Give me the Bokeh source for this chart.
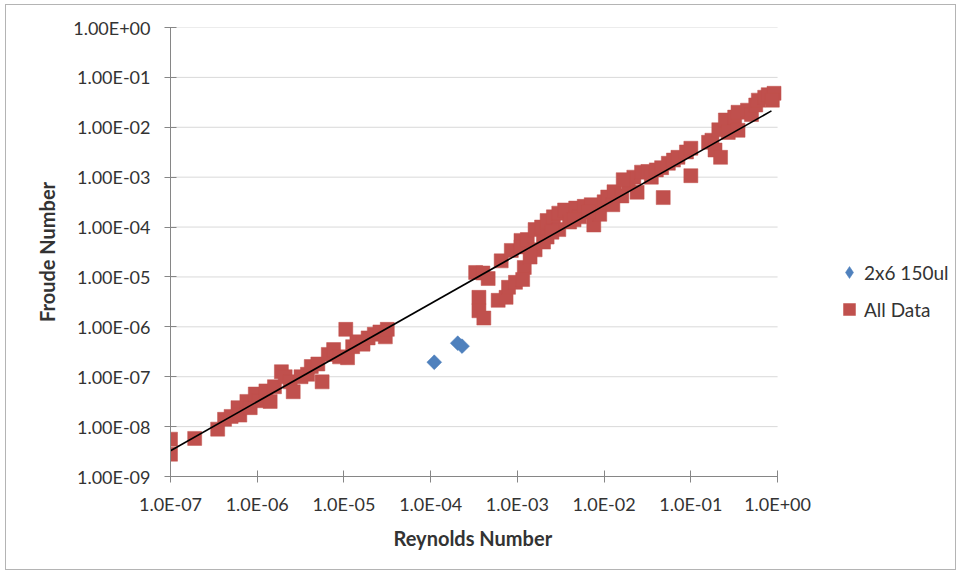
from bokeh.plotting import figure
from bokeh.models import (Range1d, FixedTicker, CustomJSTickFormatter, Legend, LegendItem, Title)
from bokeh.embed import file_html
from bokeh.resources import INLINE

# ---- data ----
all_re = [1.0e-7, 1.0e-7, 1.9e-7, 3.5e-7, 4.2e-7, 5.0e-7, 6.0e-7, 6.3e-7, 7.6e-7, 8.3e-7,
          9.5e-7, 1.05e-6, 1.26e-6, 1.41e-6, 1.58e-6, 1.9e-6, 2.1e-6, 2.4e-6, 2.6e-6, 3.2e-6,
          3.8e-6, 4.2e-6, 5.0e-6, 5.6e-6, 6.6e-6, 7.6e-6, 8.9e-6, 1.05e-5, 1.1e-5, 1.26e-5,
          1.41e-5, 1.66e-5, 1.9e-5, 2.24e-5, 2.6e-5, 3.0e-5, 3.16e-5,
          3.3e-4, 4.0e-4, 4.6e-4, 3.6e-4, 3.6e-4, 4.1e-4, 6.0e-4, 7.4e-4, 7.9e-4, 9.5e-4,
          6.5e-4, 8.5e-4, 1.1e-3, 1.2e-3, 1.15e-3, 1.1e-3, 1.3e-3, 1.6e-3, 1.6e-3, 1.9e-3,
          2.2e-3, 2.2e-3, 2.6e-3, 3.0e-3, 3.0e-3, 3.5e-3, 4.0e-3, 4.7e-3, 5.2e-3, 5.9e-3,
          7.1e-3, 7.6e-3, 8.9e-3, 1.0e-2, 1.1e-2, 1.3e-2, 1.6e-2, 1.9e-2, 2.2e-2, 2.4e-2,
          2.7e-2, 3.2e-2, 3.5e-2, 4.0e-2, 4.6e-2, 4.8e-2, 5.5e-2, 6.3e-2, 7.1e-2, 8.9e-2,
          1.0e-1, 1.0e-1, 1.6e-1, 1.75e-1, 1.9e-1, 2.2e-1, 2.1e-1, 2.5e-1, 2.7e-1, 3.2e-1,
          3.5e-1, 3.5e-1, 4.5e-1, 5.0e-1, 5.6e-1, 6.0e-1, 7.1e-1, 7.8e-1, 9.1e-1, 8.7e-1,
          1.4e-3, 2.0e-3, 2.5e-3, 4.5e-3, 6.6e-3, 1.26e-2, 1.66e-2]
all_fr = [5.6e-9, 2.8e-9, 5.8e-9, 8.9e-9, 1.4e-8, 1.6e-8, 2.4e-8, 1.7e-8, 3.2e-8, 2.4e-8,
          4.5e-8, 3.3e-8, 5.2e-8, 3.2e-8, 6.3e-8, 1.26e-7, 1.0e-7, 7.9e-8, 5.0e-8, 1.0e-7,
          1.12e-7, 1.6e-7, 1.8e-7, 7.9e-8, 2.8e-7, 3.5e-7, 2.5e-7, 8.9e-7, 2.4e-7, 4.0e-7,
          5.0e-7, 4.5e-7, 6.0e-7, 7.1e-7, 7.9e-7, 6.3e-7, 8.9e-7,
          1.23e-5, 1.2e-5, 9.3e-6, 3.9e-6, 2.1e-6, 1.5e-6, 3.4e-6, 3.9e-6, 6.2e-6, 7.8e-6,
          2.1e-5, 3.4e-5, 5.4e-5, 1.55e-5, 8.9e-6, 4.0e-5, 5.6e-5, 8.9e-5, 3.5e-5, 1.0e-4,
          1.35e-4, 6.3e-5, 1.6e-4, 1.9e-4, 8.9e-5, 2.2e-4, 1.26e-4, 2.4e-4, 1.6e-4, 2.6e-4,
          2.8e-4, 1.1e-4, 1.8e-4, 3.2e-4, 4.0e-4, 5.1e-4, 4.2e-4, 7.4e-4, 1.0e-3, 5.0e-4,
          1.26e-3, 1.3e-3, 1.0e-3, 1.4e-3, 1.55e-3, 3.9e-4, 1.9e-3, 2.2e-3, 2.5e-3, 3.2e-3,
          3.8e-3, 1.07e-3, 5.0e-3, 5.5e-3, 3.5e-3, 2.5e-3, 8.9e-3, 1.4e-2, 7.9e-3, 1.6e-2,
          2.0e-2, 8.7e-3, 2.2e-2, 1.8e-2, 2.8e-2, 3.5e-2, 4.0e-2, 4.5e-2, 4.8e-2, 3.5e-2,
          2.5e-5, 5.0e-5, 7.9e-5, 1.4e-4, 2.0e-4, 2.8e-4, 8.9e-4]

blue_re = [1.1e-4, 2.05e-4, 2.3e-4]
blue_fr = [1.95e-7, 4.7e-7, 4.1e-7]

trend_a = 0.025
trend_b = 0.983
trend_re = [1.0e-7, 8.5e-1]
trend_fr = [trend_a * r ** trend_b for r in trend_re]

x_ticks = [1e-7, 1e-6, 1e-5, 1e-4, 1e-3, 1e-2, 1e-1, 1e0]
y_ticks = [1e-9, 1e-8, 1e-7, 1e-6, 1e-5, 1e-4, 1e-3, 1e-2, 1e-1, 1e0]

series_names = ["2x6 150ul", "All Data"]

FONT = "Lato"
RED = "#C0504D"
BLUE = "#4F81BD"
TXT = "#333333"

# the frame is widened to the right (empty space beyond 1E+00) so that the
# legend can sit to the right of the plotted area, as in the reference
x_end = 10 ** 2.04
p = figure(width=951, height=566, x_axis_type="log", y_axis_type="log",
           x_range=Range1d(x_ticks[0], x_end), y_range=Range1d(y_ticks[0], y_ticks[-1]),
           output_backend="svg", toolbar_location=None,
           min_border_left=164, min_border_right=3, min_border_top=22,
           min_border_bottom=95,
           styles={"border": "1px solid #b4b4b4", "margin-left": "5px",
                   "margin-top": "4px"})
p.outline_line_color = None
p.background_fill_color = "white"
p.border_fill_color = "white"

# horizontal gridlines, limited to the plotted decades
p.segment(x0=[x_ticks[0]] * len(y_ticks), y0=y_ticks,
          x1=[x_ticks[-1]] * len(y_ticks), y1=y_ticks,
          line_color="#d9d9d9", line_width=1)

r_all = p.scatter(all_re, all_fr, marker="square", size=14,
                  fill_color=RED, line_color=RED, line_width=0.5)
# blue series: equal-sided diamonds (rotated squares) ...
p.scatter(blue_re, blue_fr, marker="square", size=10.5, angle=0.785398,
          fill_color=BLUE, line_color=BLUE, line_width=0.5)
# ... and the same points as Bokeh diamonds (hidden inside them), used as legend key
r_blue = p.scatter(blue_re, blue_fr, marker="diamond", size=13,
                   fill_color=BLUE, line_color=BLUE, line_width=0.5)
p.line(trend_re, trend_fr, line_color="black", line_width=1.6)

# axes
xfmt = CustomJSTickFormatter(code="""
const e = Math.round(Math.log10(tick));
const a = Math.abs(e);
return '1.0E' + (e < 0 ? '-' : '+') + (a < 10 ? '0' : '') + a;
""")
yfmt = CustomJSTickFormatter(code="""
const e = Math.round(Math.log10(tick));
const a = Math.abs(e);
return '1.00E' + (e < 0 ? '-' : '+') + (a < 10 ? '0' : '') + a;
""")

for ax, ticks, fmt in ((p.xaxis[0], x_ticks, xfmt), (p.yaxis[0], y_ticks, yfmt)):
    ax.ticker = FixedTicker(ticks=ticks, minor_ticks=[])
    ax.formatter = fmt
    ax.axis_line_color = "#868686"
    ax.major_tick_line_color = "#868686"
    ax.minor_tick_line_color = None
    ax.major_tick_in = 6
    ax.major_tick_out = 6
    ax.major_label_text_font = FONT
    ax.major_label_text_font_size = "18px"
    ax.major_label_text_color = TXT
    ax.axis_label_text_font = FONT
    ax.axis_label_text_font_size = "20px"
    ax.axis_label_text_font_style = "bold"
    ax.axis_label_text_color = TXT

p.xaxis.bounds = (x_ticks[0], x_ticks[-1])
p.yaxis.axis_label = "Froude Number"
p.xaxis.major_label_standoff = 10
p.yaxis.major_label_standoff = 14
p.yaxis.axis_label_standoff = 11

p.xgrid.grid_line_color = None
p.ygrid.grid_line_color = None

xlabel = Title(text="Reynolds Number", align="left", offset=223, standoff=12,
               text_font=FONT, text_font_size="20px", text_font_style="bold",
               text_color=TXT)
p.add_layout(xlabel, "below")

legend = Legend(items=[LegendItem(label=series_names[0], renderers=[r_blue]),
                       LegendItem(label=series_names[1], renderers=[r_all])],
                location=(664, 152), orientation="vertical",
                glyph_width=30, glyph_height=30, label_standoff=0, spacing=7,
                padding=0, margin=0,
                label_text_font=FONT, label_text_font_size="19px",
                label_text_color=TXT,
                border_line_color=None, background_fill_alpha=0)
p.add_layout(legend)

open("out.html", "w").write(file_html(p, INLINE))
